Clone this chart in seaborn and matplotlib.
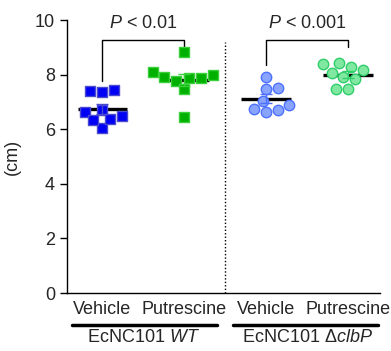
import matplotlib
matplotlib.use('Agg')
import matplotlib.pyplot as plt
import numpy as np
import pandas as pd
import seaborn as sns

# Data (cm)
groups = ['Vehicle WT', 'Putrescine WT', 'Vehicle clbP', 'Putrescine clbP']
tick_labels = ['Vehicle', 'Putrescine', 'Vehicle', 'Putrescine']
veh_wt = [7.41, 7.44, 7.36, 6.47, 6.03, 6.70, 6.37, 6.64, 6.34]
put_wt = [8.82, 7.86, 7.99, 8.08, 7.78, 7.46, 7.90, 7.86, 6.46]
veh_clbp = [7.90, 7.46, 7.52, 7.04, 6.62, 6.89, 6.70, 6.74]
put_clbp = [8.38, 8.44, 8.27, 8.17, 8.07, 7.83, 7.92, 7.48, 7.48]
p_texts = ['$\\it{P}$ < 0.01', '$\\it{P}$ < 0.001']
strain_labels = ['EcNC101 $\\it{WT}$', 'EcNC101 Δ$\\it{clbP}$']

series = [veh_wt, put_wt, veh_clbp, put_clbp]
fills = ['#0000f5', '#00b000', '#88a4ff', '#80e8a0']
edges = ['#4a4ad0', '#3ccf3c', '#4d70ff', '#2fcf6a']
markers = ['s', 's', 'o', 'o']

df = pd.DataFrame({
    'group': np.repeat(groups, [len(s) for s in series]),
    'value': np.concatenate(series),
})

sns.set_style('ticks')
plt.rcParams['font.family'] = ['Liberation Sans', 'DejaVu Sans']
plt.rcParams['mathtext.fontset'] = 'custom'
plt.rcParams['mathtext.rm'] = 'Liberation Sans'
plt.rcParams['mathtext.it'] = 'Liberation Sans:italic'
fs = 13

fig = plt.figure(figsize=(3.91, 3.51), dpi=100)
ax = fig.add_axes([0.171, 0.165, 0.801, 0.778])

for i, g in enumerate(groups):
    sns.swarmplot(data=df[df['group'] == g], x='group', y='value', order=groups,
                  color=fills[i], edgecolor=edges[i], linewidth=1,
                  marker=markers[i], size=7.5, ax=ax, zorder=3)
    vals = np.array(series[i])
    m = vals.mean()
    sem = vals.std(ddof=1) / np.sqrt(len(vals))
    ax.hlines(m, i - 0.3, i + 0.3, color='black', lw=2.4, zorder=2)
    ax.errorbar(i, m, yerr=sem, color=edges[i], capsize=4.5, lw=1, capthick=1, zorder=5)

# separator
ax.vlines(1.5, 0, 9.2, color='black', lw=1, linestyles=(0, (1, 1.5)))

# significance brackets
ax.plot([0, 0, 1, 1], [7.75, 9.27, 9.27, 9.0], color='black', lw=1, clip_on=False)
ax.text(0.5, 9.55, p_texts[0], ha='center', va='bottom', fontsize=fs)
ax.plot([2, 2, 3, 3], [8.35, 9.27, 9.27, 9.0], color='black', lw=1, clip_on=False)
ax.text(2.5, 9.55, p_texts[1], ha='center', va='bottom', fontsize=fs)

ax.set_xlim(-0.43, 3.39)
ax.set_ylim(0, 10)
ax.set_yticks([0, 2, 4, 6, 8, 10])
ax.set_xticks(range(4))
ax.set_xticklabels(tick_labels, fontsize=fs)
ax.tick_params(axis='x', length=0, pad=6)
ax.tick_params(axis='y', length=5, width=1, labelsize=fs, color='black')
ax.set_xlabel('')
ax.set_ylabel('(cm)', fontsize=fs, labelpad=10)
sns.despine(ax=ax)
for s in ['left', 'bottom']:
    ax.spines[s].set_linewidth(1)
    ax.spines[s].set_color('black')

# strain group labels under the axis
trans = ax.get_xaxis_transform()
ax.plot([-0.37, 1.40], [-0.117, -0.117], color='black', lw=2.5, transform=trans, clip_on=False)
ax.plot([1.60, 3.37], [-0.117, -0.117], color='black', lw=2.5, transform=trans, clip_on=False)
ax.text(0.5, -0.162, strain_labels[0], ha='center', va='center', fontsize=fs, transform=trans)
ax.text(2.5, -0.162, strain_labels[1], ha='center', va='center', fontsize=fs, transform=trans)

fig.savefig('out.png', dpi=100)
